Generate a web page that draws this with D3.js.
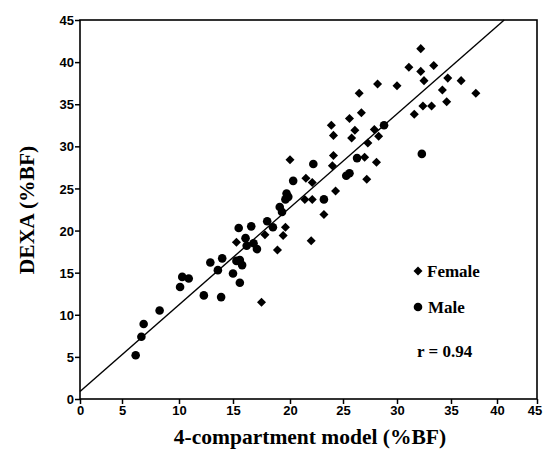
<!DOCTYPE html>
<html>
<head>
  <meta charset="utf-8">
  <style>
    body { margin: 0; background: #fff; }
    svg { font-family: "Liberation Serif", "Times New Roman", serif; font-weight: bold; }
    .tick text { font-size: 13px; font-weight: bold; fill: #000; }
    .tick line { stroke: #000; stroke-width: 1.5; }
    .axis-title { font-size: 21.5px; font-weight: bold; text-anchor: middle; }
    .legend { font-size: 17px; font-weight: bold; }
  </style>
</head>
<body>
  <script src="https://d3js.org/d3.v7.min.js"></script>
  <script>
    // tick values
    const ticks = [0, 5, 10, 15, 20, 25, 30, 35, 40, 45];

    // female (diamonds): 4-compartment %BF, DEXA %BF
    const femaleX = [15.3, 17.5, 17.8, 19.4, 18.9, 19.6, 20.0, 21.5, 22.1, 21.4, 22.1, 24.3, 23.2, 22.0, 24.1, 24.0,
      32.2, 31.1, 33.4, 32.2, 32.5, 34.7, 36.1, 37.7, 34.2, 34.6, 32.4, 33.2, 31.6, 28.2, 30.0, 26.5, 26.7, 25.6,
      23.9, 24.1, 26.1, 25.8, 27.9, 28.3, 27.3, 27.0, 28.1, 27.2];
    const femaleY = [18.6, 11.5, 19.5, 19.4, 17.7, 20.4, 28.4, 26.2, 25.7, 23.7, 23.7, 24.7, 21.9, 18.8, 28.9, 27.7,
      41.6, 39.4, 39.6, 38.9, 37.8, 38.1, 37.8, 36.3, 36.7, 35.3, 34.8, 34.8, 33.8, 37.4, 37.2, 36.3, 34.0, 33.3,
      32.5, 31.3, 31.9, 31.0, 32.0, 31.2, 30.4, 28.7, 28.1, 26.1];

    // male (circles)
    const maleX = [6.2, 6.7, 6.9, 8.3, 10.1, 10.3, 10.9, 12.3, 13.9, 12.9, 14.0, 13.6, 15.0, 15.6, 15.3, 15.6, 15.8,
      15.5, 16.6, 16.1, 16.8, 16.2, 17.1, 18.0, 18.5, 19.1, 19.3, 19.7, 19.85, 19.6, 20.3, 22.2, 23.2, 25.3, 25.6,
      28.8, 26.3, 32.3];
    const maleY = [5.2, 7.4, 8.9, 10.5, 13.3, 14.5, 14.3, 12.3, 12.1, 16.2, 16.7, 15.3, 14.9, 13.8, 16.4, 16.5, 15.9,
      20.3, 20.5, 19.1, 18.5, 18.2, 17.8, 21.1, 20.4, 22.8, 22.2, 24.4, 24.0, 23.7, 25.9, 27.9, 23.7, 26.5, 26.8,
      32.5, 28.6, 29.1];

    // regression line end points
    const fitX = [0, 40.9];
    const fitY = [0.9, 45];
    const rLabel = "r = 0.94";

    const width = 543, height = 452;

    // the printed x axis is unevenly spaced, so use a piecewise scale
    const x = d3.scaleLinear()
      .domain(ticks)
      .range([80, 122, 179, 233, 290, 343, 397, 451, 497, 537]);

    const y = d3.scaleLinear()
      .domain([0, 45])
      .range([399, 20]);

    const svg = d3.select("body").append("svg")
      .attr("width", width)
      .attr("height", height);

    svg.append("g")
      .attr("transform", `translate(0,${y(0)})`)
      .call(d3.axisBottom(x).tickValues(ticks).tickSize(5).tickPadding(2))
      .call(g => g.select(".domain").remove())
      .call(g => g.selectAll(".tick:last-of-type text").attr("dx", -2.5));

    svg.append("g")
      .attr("transform", `translate(${x(0)},0)`)
      .call(d3.axisLeft(y).tickValues(ticks).tickSize(5).tickPadding(1))
      .call(g => g.select(".domain").remove())
      .call(g => g.selectAll(".tick text").attr("dy", "0.35em"));

    // frame
    svg.append("rect")
      .attr("x", x(0))
      .attr("y", y(45))
      .attr("width", x(45) - x(0))
      .attr("height", y(0) - y(45))
      .attr("fill", "none")
      .attr("stroke", "#000")
      .attr("stroke-width", 1.6);

    svg.append("path")
      .datum(d3.zip(fitX, fitY))
      .attr("fill", "none")
      .attr("stroke", "#000")
      .attr("stroke-width", 1.4)
      .attr("d", d3.line().x(d => x(d[0])).y(d => y(d[1])));

    const diamond = d3.symbol().type(d3.symbolDiamond2).size(52);

    svg.append("g").selectAll("path")
      .data(d3.zip(femaleX, femaleY))
      .enter()
      .append("path")
      .attr("d", diamond)
      .attr("transform", d => `translate(${x(d[0])},${y(d[1])})`)
      .attr("fill", "#000");

    svg.append("g").selectAll("circle")
      .data(d3.zip(maleX, maleY))
      .enter()
      .append("circle")
      .attr("cx", d => x(d[0]))
      .attr("cy", d => y(d[1]))
      .attr("r", 4.3)
      .attr("fill", "#000");

    // legend
    const lg = svg.append("g").attr("class", "legend");
    lg.append("path")
      .attr("d", diamond)
      .attr("transform", "translate(418,271)");
    lg.append("text").attr("x", 427).attr("y", 277).text("Female");
    lg.append("circle").attr("cx", 418).attr("cy", 307).attr("r", 4.3);
    lg.append("text").attr("x", 428).attr("y", 313).text("Male");
    lg.append("text").attr("x", 417).attr("y", 357).text(rLabel);

    // axis titles
    svg.append("text")
      .attr("class", "axis-title")
      .attr("x", 310)
      .attr("y", 444)
      .text("4-compartment model (%BF)");

    svg.append("text")
      .attr("class", "axis-title")
      .attr("transform", "translate(34,210) rotate(-90)")
      .text("DEXA (%BF)");
  </script>
</body>
</html>
